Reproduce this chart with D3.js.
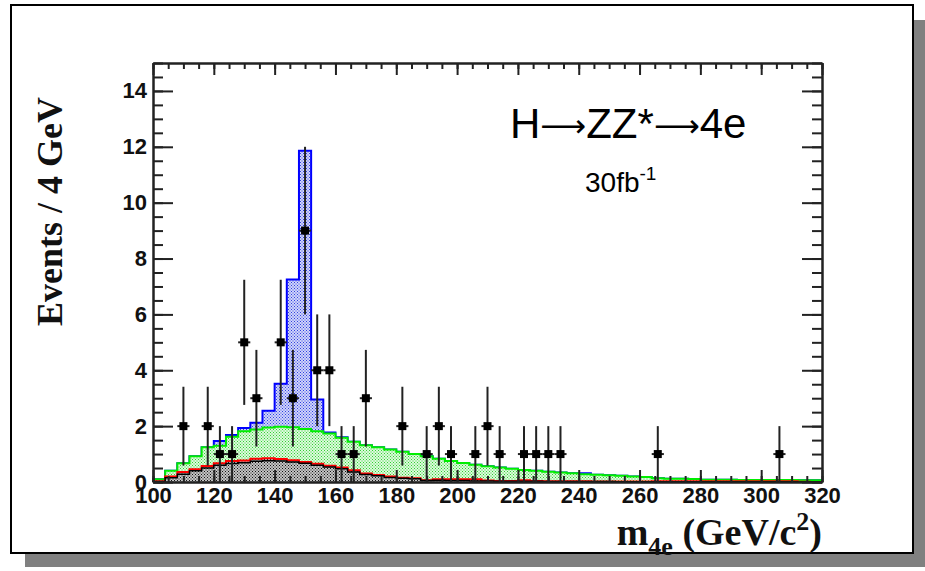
<!DOCTYPE html>
<html>
<head>
<meta charset="utf-8">
<script src="https://cdn.jsdelivr.net/npm/d3@7"></script>
<style>
  body { margin: 0; background: #fff; }
  svg { display: block; }
</style>
</head>
<body>
<svg width="925" height="571"></svg>
<script>
// 4 GeV bins from 100 to 320
var binStarts = d3.range(100, 320, 4);

// stacked histogram tops (events / 4 GeV)
var stackBlack = [0.02,0.15,0.28,0.40,0.50,0.60,0.66,0.69,0.74,0.76,0.75,0.72,0.67,0.60,0.54,0.47,0.36,0.27,0.22,0.16,
  0.13,0.12,0.05,0.06,0.05,0.05,0.04,0.04,0.03,0.03,0.03,0.03,0.02,0.02,0.02,0.02,0.02,0.02,0.01,0.01,
  0.01,0.01,0.01,0.01,0.01,0.01,0.01,0.01,0.01,0.01,0.01,0.01,0.01,0.00,0.00];
var stackRed = [0.03,0.20,0.36,0.46,0.57,0.67,0.75,0.77,0.83,0.85,0.82,0.78,0.72,0.65,0.58,0.52,0.42,0.30,0.25,0.20,
  0.15,0.13,0.06,0.10,0.10,0.10,0.10,0.05,0.04,0.04,0.06,0.04,0.03,0.03,0.03,0.03,0.02,0.02,0.02,0.02,
  0.02,0.03,0.03,0.03,0.03,0.03,0.03,0.03,0.03,0.03,0.03,0.03,0.03,0.01,0.00];
var stackGreen = [0.10,0.40,0.67,0.92,1.24,1.30,1.62,1.82,1.88,1.95,1.98,1.96,1.90,1.82,1.74,1.58,1.44,1.32,1.24,1.16,
  1.08,1.00,0.92,0.83,0.75,0.68,0.62,0.56,0.52,0.47,0.43,0.40,0.37,0.34,0.31,0.28,0.26,0.24,0.22,0.20,
  0.18,0.13,0.12,0.12,0.11,0.08,0.08,0.08,0.07,0.07,0.07,0.07,0.07,0.06,0.06];
var stackBlue = [0.10,0.40,0.67,0.92,1.24,1.47,1.68,1.93,2.12,2.55,3.52,7.25,11.86,2.95,1.77,1.60,1.44,1.32,1.24,1.16,
  1.08,1.00,0.92,0.83,0.75,0.68,0.62,0.56,0.52,0.47,0.43,0.40,0.37,0.34,0.31,0.31,0.26,0.24,0.22,0.20,
  0.18,0.13,0.12,0.12,0.11,0.08,0.08,0.08,0.07,0.07,0.07,0.07,0.07,0.06,0.06];

// pseudo data points
var dataMass   = [110,118,122,126,130,134,142,146,150,154,158,162,166,170,182,190,194,198,206,210,214,222,226,230,234,266,306];
var dataCounts = [2,2,1,1,5,3,5,3,9,4,4,1,1,3,2,1,2,1,1,2,1,1,1,1,1,1,1];
var dataErr    = [1.41,1.41,1,1,2.24,1.73,2.24,1.73,3,2,2,1,1,1.73,1.41,1,1.41,1,1,1.41,1,1,1,1,1,1,1];

var xMajor = d3.range(100, 321, 20);
var xMinor = d3.range(100, 321, 5);
var yMajor = d3.range(0, 15, 2);
var yMinor = d3.range(0, 15.01, 0.5);

var svg = d3.select("svg");

// canvas frame with shadow
svg.append("rect").attr("x", 25).attr("y", 20).attr("width", 900).attr("height", 547).attr("fill", "#808080");
svg.append("rect").attr("x", 11).attr("y", 5).attr("width", 902).attr("height", 548)
    .attr("fill", "#fff").attr("stroke", "#000").attr("stroke-width", 2);

var x = d3.scaleLinear().domain([100, 320]).range([153, 822]);
var y = d3.scaleLinear().domain([0, 15]).range([482, 63]);

// dotted fill patterns
var defs = svg.append("defs");
function dotPattern(id, bg, dot) {
    var p = defs.append("pattern").attr("id", id).attr("patternUnits", "userSpaceOnUse")
        .attr("width", 3).attr("height", 3);
    p.append("rect").attr("width", 3).attr("height", 3).attr("fill", bg);
    p.append("rect").attr("x", 0).attr("y", 0).attr("width", 1).attr("height", 1).attr("fill", dot);
    p.append("rect").attr("x", 1.5).attr("y", 1.5).attr("width", 1).attr("height", 1).attr("fill", dot);
}
dotPattern("patBlue", "#d0d4fa", "#3040e0");
dotPattern("patGreen", "#dcfadc", "#30d030");
dotPattern("patGrey", "#c4c4c4", "#111");

function stepPoints(tops) {
    var pts = binStarts.map(function(b, i) { return [b, tops[i]]; });
    pts.push([320, tops[tops.length - 1]]);
    return pts;
}

var area = d3.area()
    .x(function(d) { return x(d[0]); })
    .y0(y(0))
    .y1(function(d) { return y(d[1]); })
    .curve(d3.curveStepAfter);

var outline = d3.line()
    .x(function(d) { return x(d[0]); })
    .y(function(d) { return y(d[1]); })
    .curve(d3.curveStepAfter);

var layers = [
    {tops: stackBlue,  fill: "url(#patBlue)",  stroke: "#0000ff", w: 2},
    {tops: stackGreen, fill: "url(#patGreen)", stroke: "#00ee00", w: 2},
    {tops: stackRed,   fill: "url(#patGrey)",  stroke: "#ff0000", w: 2},
    {tops: stackBlack, fill: "url(#patGrey)",  stroke: "#000000", w: 1.5}
];

var hist = svg.append("g").attr("class", "hists");
layers.forEach(function(l) {
    var pts = stepPoints(l.tops);
    hist.append("path").attr("d", area(pts)).attr("fill", l.fill);
    var linePts = [[100, 0]].concat(pts);
    hist.append("path").attr("d", outline(linePts))
        .attr("fill", "none").attr("stroke", l.stroke).attr("stroke-width", l.w);
});

// axes: labelled majors plus unlabelled minors, ticks pointing inward
var axisFont = "'Liberation Sans', Arial, sans-serif";
function styleAxis(g) {
    g.select(".domain").attr("stroke", "#222").attr("stroke-width", 2);
    g.selectAll(".tick line").attr("stroke", "#222").attr("stroke-width", 2);
    g.selectAll("text").attr("font-family", axisFont).attr("font-weight", "bold")
        .attr("font-size", 22).attr("fill", "#111");
}

var axes = svg.append("g").attr("class", "axes");
axes.append("g").attr("transform", "translate(0,482)")
    .call(d3.axisBottom(x).tickValues(xMinor).tickSize(-6).tickFormat("").tickSizeOuter(0)).call(styleAxis);
axes.append("g").attr("transform", "translate(0,482)")
    .call(d3.axisBottom(x).tickValues(xMajor).tickSize(-12).tickPadding(5).tickFormat(d3.format("d")).tickSizeOuter(0)).call(styleAxis);
axes.append("g").attr("transform", "translate(0,63)")
    .call(d3.axisTop(x).tickValues(xMinor).tickSize(-6).tickFormat("").tickSizeOuter(0)).call(styleAxis);
axes.append("g").attr("transform", "translate(0,63)")
    .call(d3.axisTop(x).tickValues(xMajor).tickSize(-12).tickFormat("").tickSizeOuter(0)).call(styleAxis);

axes.append("g").attr("transform", "translate(153,0)")
    .call(d3.axisLeft(y).tickValues(yMinor).tickSize(-10).tickFormat("").tickSizeOuter(0)).call(styleAxis);
axes.append("g").attr("transform", "translate(153,0)")
    .call(d3.axisLeft(y).tickValues(yMajor).tickSize(-20).tickPadding(6).tickFormat(d3.format("d")).tickSizeOuter(0)).call(styleAxis);
axes.append("g").attr("transform", "translate(822,0)")
    .call(d3.axisRight(y).tickValues(yMinor).tickSize(-10).tickFormat("").tickSizeOuter(0)).call(styleAxis);
axes.append("g").attr("transform", "translate(822,0)")
    .call(d3.axisRight(y).tickValues(yMajor).tickSize(-20).tickFormat("").tickSizeOuter(0)).call(styleAxis);

// data points with error bars
var pts = svg.append("g").attr("class", "points");
var dataRows = dataMass.map(function(m, i) { return {m: m, n: dataCounts[i], e: dataErr[i]}; });
pts.selectAll("line.v").data(dataRows).enter().append("line").attr("class", "v")
    .attr("x1", function(d) { return x(d.m); }).attr("x2", function(d) { return x(d.m); })
    .attr("y1", function(d) { return y(Math.max(0, d.n - d.e)); })
    .attr("y2", function(d) { return y(d.n + d.e); })
    .attr("stroke", "#222").attr("stroke-width", 2);
pts.selectAll("line.h").data(dataRows).enter().append("line").attr("class", "h")
    .attr("x1", function(d) { return x(d.m - 2); }).attr("x2", function(d) { return x(d.m + 2); })
    .attr("y1", function(d) { return y(d.n); }).attr("y2", function(d) { return y(d.n); })
    .attr("stroke", "#222").attr("stroke-width", 2);
pts.selectAll("rect").data(dataRows).enter().append("rect")
    .attr("x", function(d) { return x(d.m) - 4; })
    .attr("y", function(d) { return y(d.n) - 4; })
    .attr("width", 8).attr("height", 8).attr("fill", "#000");

// titles
var serif = "'Liberation Serif', 'Times New Roman', serif";
svg.append("text").attr("transform", "translate(62,97) rotate(-90)")
    .attr("text-anchor", "end").attr("font-family", serif).attr("font-weight", "bold")
    .attr("font-size", 36).attr("fill", "#111").text("Events / 4 GeV");

var xt = svg.append("text").attr("x", 822).attr("y", 545).attr("text-anchor", "end")
    .attr("font-family", serif).attr("font-weight", "bold").attr("font-size", 38).attr("fill", "#111");
xt.append("tspan").text("m");
xt.append("tspan").attr("dy", 10).attr("font-size", 26).text("4e");
xt.append("tspan").attr("dy", -10).text(" (GeV/c");
xt.append("tspan").attr("dy", -15).attr("font-size", 26).text("2");
xt.append("tspan").attr("dy", 15).text(")");

// long thin arrows as in the original label
var arrowFont = "'DejaVu Sans', sans-serif";
var decay = svg.append("text").attr("x", 510).attr("y", 138)
    .attr("font-family", axisFont).attr("font-size", 42).attr("fill", "#000");
decay.append("tspan").text("H");
decay.append("tspan").attr("font-family", arrowFont).attr("font-size", 32).attr("dy", -1).text("\u27F6");
decay.append("tspan").attr("dy", 1).text("ZZ*");
decay.append("tspan").attr("font-family", arrowFont).attr("font-size", 32).attr("dy", -1).text("\u27F6");
decay.append("tspan").attr("dy", 1).text("4e");

var lumi = svg.append("text").attr("x", 585).attr("y", 192)
    .attr("font-family", axisFont).attr("font-size", 28).attr("fill", "#000");
lumi.append("tspan").text("30fb");
lumi.append("tspan").attr("dy", -12).attr("font-size", 19).text("-1");
</script>
</body>
</html>
